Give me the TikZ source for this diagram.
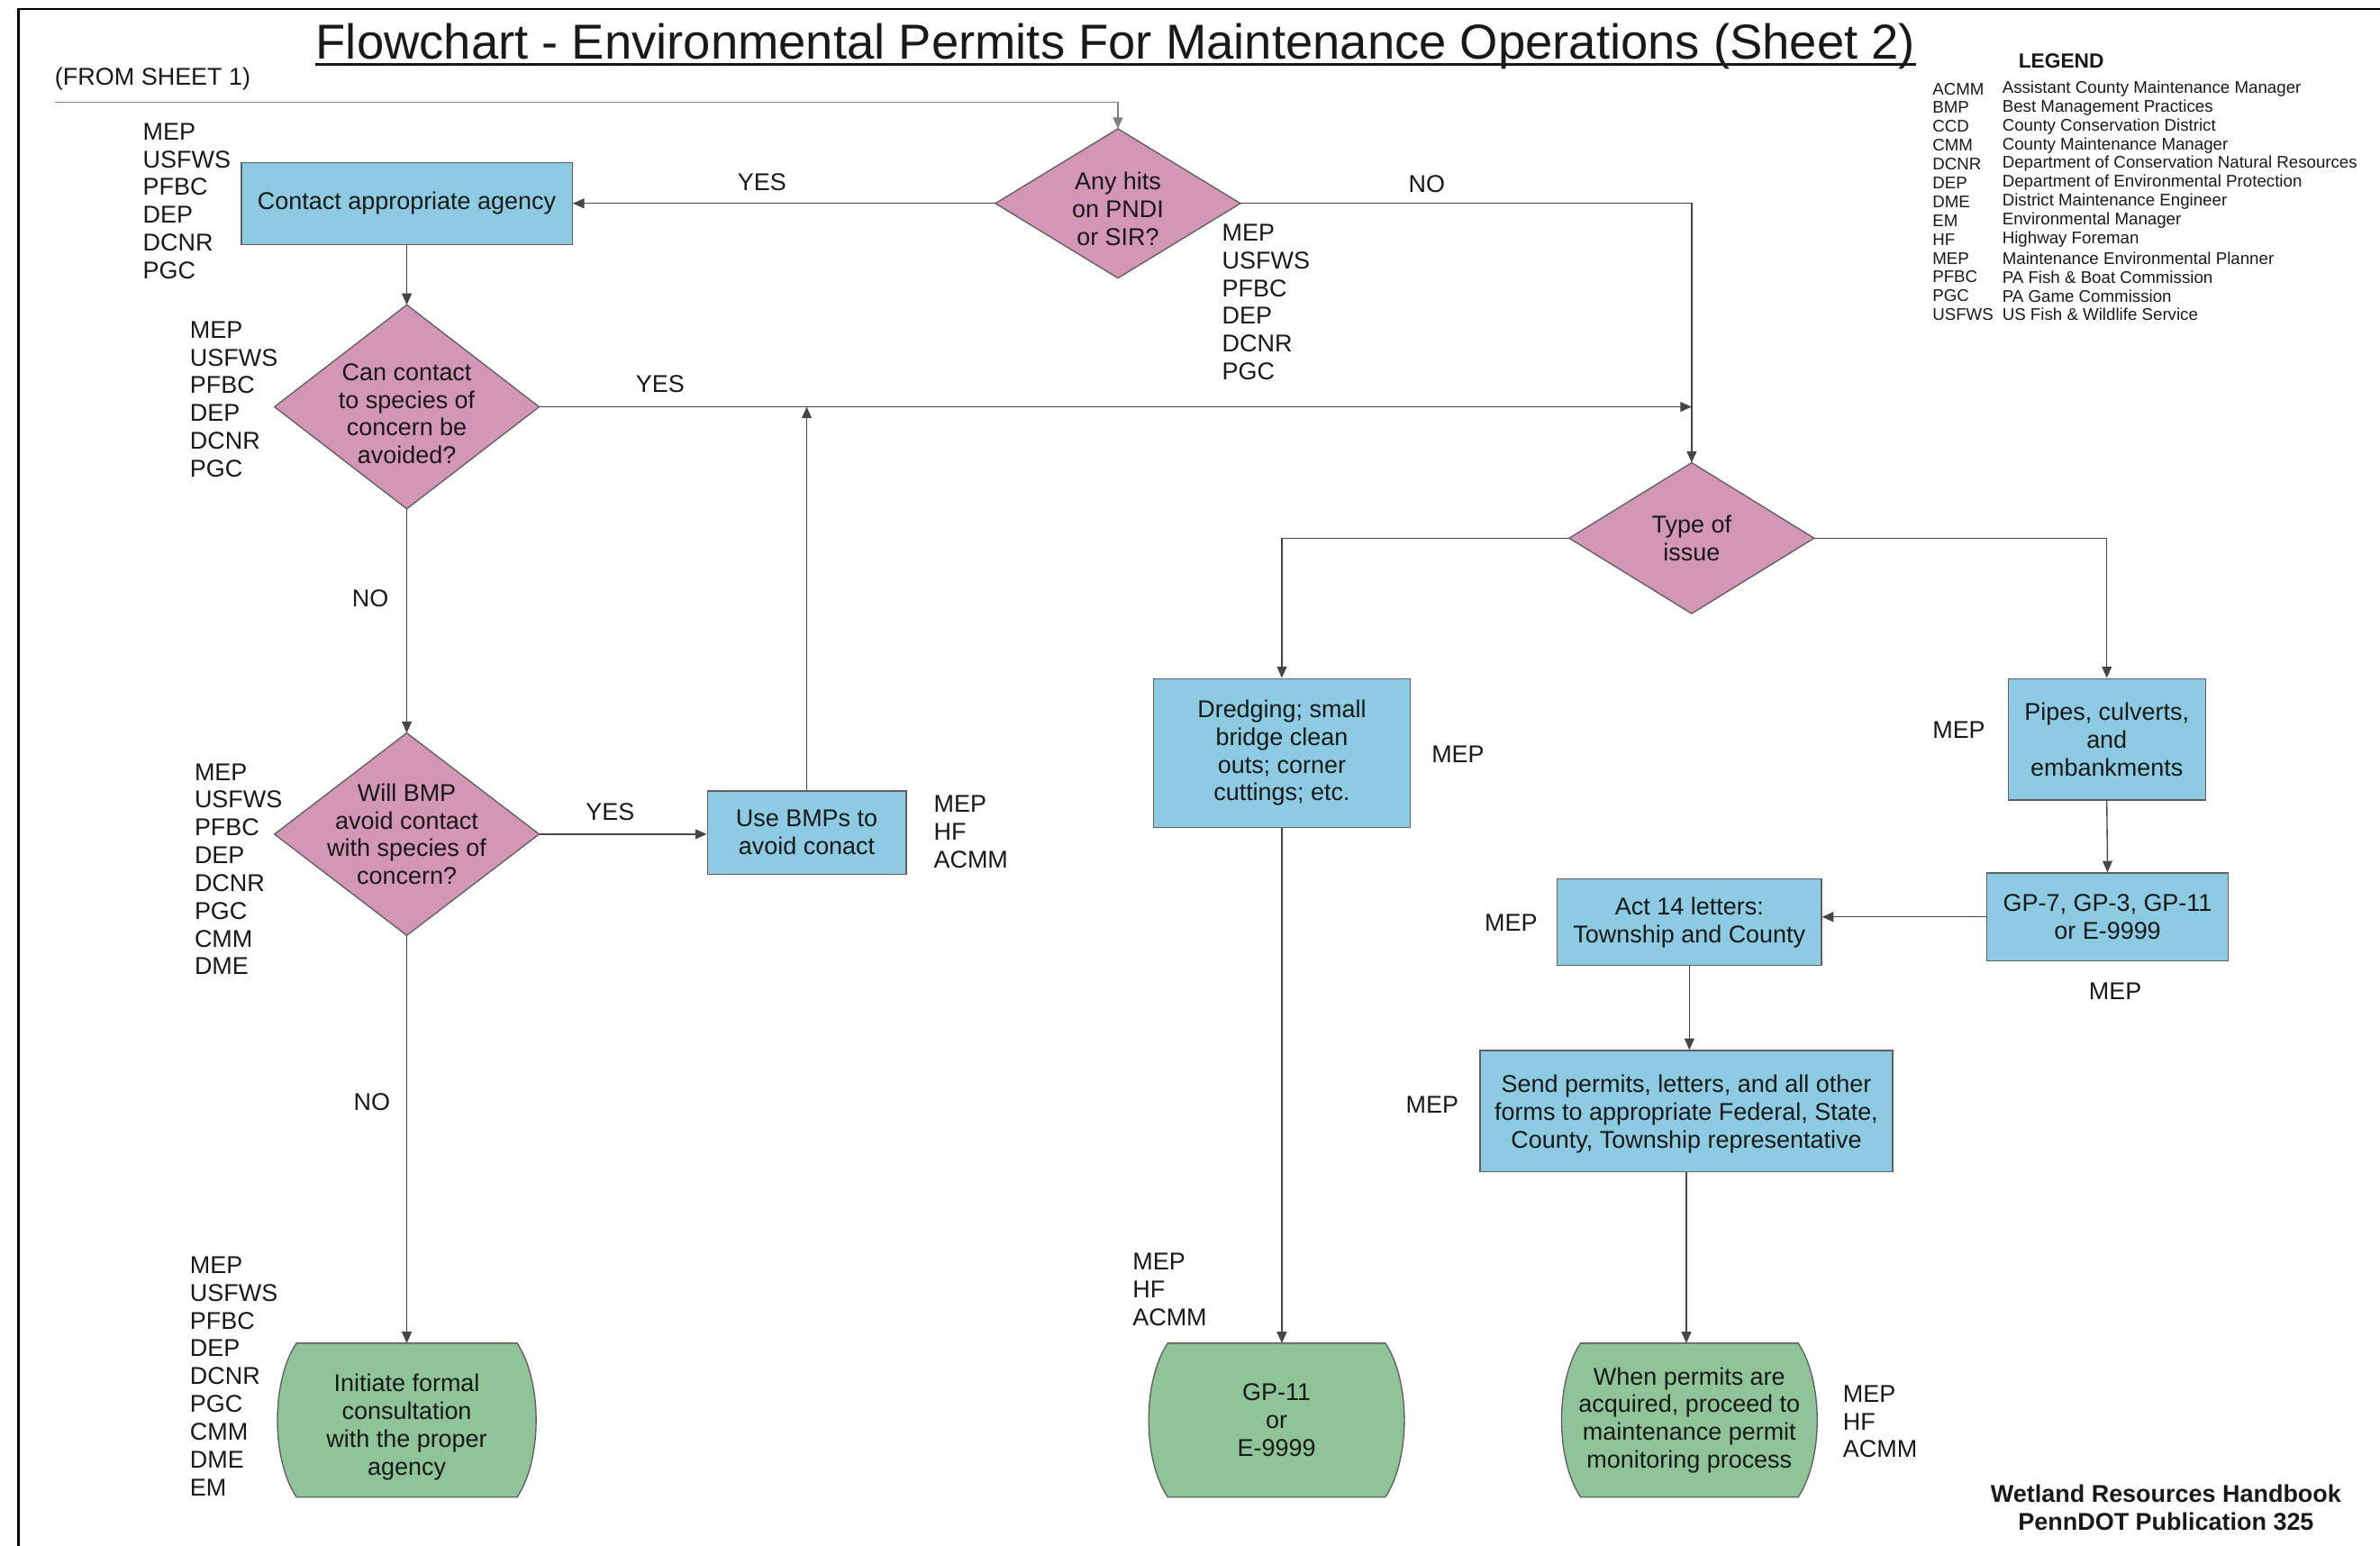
\documentclass[tikz,border=0pt]{standalone}
\usepackage{fontspec}
\setmainfont{Liberation Sans}
\usetikzlibrary{arrows.meta,calc}
\definecolor{pinkd}{RGB}{212,150,182}
\definecolor{blueb}{RGB}{141,203,226}
\definecolor{greent}{RGB}{143,196,152}
\definecolor{lineg}{RGB}{70,70,70}
\definecolor{edgeg}{RGB}{95,95,95}
\definecolor{txt}{RGB}{25,25,25}
\pgfdeclarelayer{bg}
\pgfsetlayers{bg,main}
\newcommand\fsz{\fontsize{16}{18.3}\selectfont}
\newcommand\termshape[1]{%
 \path[termfill] ($(#1.north west)+(12.5,0)$) -- ($(#1.north east)+(-12.5,0)$)
  .. controls ($(#1.north east)+(4.17,25)$) and ($(#1.south east)+(4.17,-25)$) .. ($(#1.south east)+(-12.5,0)$)
  -- ($(#1.south west)+(12.5,0)$)
  .. controls ($(#1.south west)+(-4.17,-25)$) and ($(#1.north west)+(-4.17,25)$) .. cycle;}
\newcommand\diashape[1]{%
 \path[diafill] (#1.north) -- (#1.east) -- (#1.south) -- (#1.west) -- cycle;}
\tikzset{
 boxn/.style={rectangle, draw=edgeg, fill=blueb, line width=0.8pt, align=center, font=\fsz, text=txt, inner sep=0pt},
 dian/.style={rectangle, draw=none, align=center, font=\fsz, text=txt, inner sep=0pt},
 termn/.style={rectangle, draw=none, align=center, font=\fsz, text=txt, inner sep=0pt, minimum width=170, minimum height=101},
 textn/.style={align=center, font=\fsz, text=txt, inner sep=0pt},
 diafill/.style={fill=pinkd, draw=edgeg, line width=0.8pt},
 termfill/.style={fill=greent, draw=edgeg, line width=0.8pt},
 lbl/.style={font=\fsz, align=left, anchor=west, inner sep=0pt, text=txt},
 edgelbl/.style={font=\fsz, inner sep=0pt, text=txt},
 conn/.style={draw=lineg, line width=0.8pt, -{Triangle[length=7.5,width=6.5]}},
 legab/.style={font=\fontsize{11.1}{12.4}\selectfont, anchor=west, inner sep=0pt, text=txt}
}
\begin{document}
\begin{tikzpicture}[x=1pt,y=-1pt]
\useasboundingbox (0,0) rectangle (1568,1018);
% frame
\draw[line width=1.6pt, black] (12,1040) -- (12,6) -- (1590,6);

% title
\node[inner sep=0pt, anchor=base, font=\fontsize{32.3}{36}\selectfont, text=txt] (title) at (735,39) {Flowchart - Environmental Permits For Maintenance Operations (Sheet 2)};
\draw[line width=1.8pt, txt] ($(title.base west)+(0,3.5)$) -- ($(title.base east)+(0,3.5)$);
\node[inner sep=0pt, anchor=base west, font=\fsz, text=txt] (fromsheet) at (36,56) {(FROM SHEET 1)};
\coordinate (fs) at (36,67.5);

% legend
\node[inner sep=0pt, font=\bfseries\fontsize{13.5}{15}\selectfont, text=txt] (legend) at (1358,40) {LEGEND};
\foreach \ab/\de [count=\i from 0] in {ACMM/Assistant County Maintenance Manager, BMP/Best Management Practices, CCD/County Conservation District, CMM/County Maintenance Manager, DCNR/Department of Conservation Natural Resources, DEP/Department of Environmental Protection, DME/District Maintenance Engineer, EM/Environmental Manager, HF/Highway Foreman, MEP/Maintenance Environmental Planner, PFBC/PA Fish \& Boat Commission, PGC/PA Game Commission, USFWS/US Fish \& Wildlife Service}{
  \node[legab] (la\i) at (1273,{58.5+12.4*\i}) {\ab};
  \node[legab] (ld\i) at (1319,{58.5+12.4*\i}) {\de};
}

% footer
\node[inner sep=0pt, align=center, font=\bfseries\fontsize{16}{18.3}\selectfont, text=txt] (footer) at (1427,993) {Wetland Resources Handbook\\PennDOT Publication 325};

% nodes
\node[boxn, minimum width=218, minimum height=54] (contact) at (268,134) {Contact appropriate agency};
\node[dian, minimum width=161, minimum height=98] (d1) at (736.5,134) {};
\node[textn] (d1t) at (736.5,137.5) {Any hits\\on PNDI\\or SIR?};
\node[dian, minimum width=174, minimum height=134] (d2) at (268,268) {};
\node[textn] (d2t) at (268,272.5) {Can contact\\to species of\\concern be\\avoided?};
\node[dian, minimum width=174, minimum height=133] (d3) at (268,549.5) {Will BMP\\avoid contact\\with species of\\concern?};
\node[boxn, minimum width=131, minimum height=55] (usebmp) at (531.5,548.5) {Use BMPs to\\avoid conact};
\node[termn] (init) at (268,935.5) {};
\node[textn] (initt) at (268,940) {Initiate formal\\consultation\\with the proper\\agency};
\node[dian, minimum width=161, minimum height=99] (typ) at (1114.5,354.5) {Type of\\issue};
\node[boxn, minimum width=169, minimum height=98] (dredge) at (844.5,496) {Dredging; small\\bridge clean\\outs; corner\\cuttings; etc.};
\node[termn, minimum width=168] (gp11) at (841,935.5) {GP-11\\or\\E-9999};
\node[boxn, minimum width=130, minimum height=80] (pipes) at (1388,487) {Pipes, culverts,\\and\\embankments};
\node[boxn, minimum width=159, minimum height=58] (gp7) at (1388.5,604) {GP-7, GP-3, GP-11\\or E-9999};
\node[boxn, minimum width=174, minimum height=57] (act14) at (1113,607.5) {Act 14 letters:\\Township and County};
\node[boxn, minimum width=272, minimum height=80] (send) at (1111,732) {};
\node[textn] (sendt) at (1111,734) {Send permits, letters, and all other\\forms to appropriate Federal, State,\\County, Township representative};
\node[termn, minimum width=168] (when) at (1113,935.5) {When permits are\\acquired, proceed to\\maintenance permit\\monitoring process};

\begin{pgfonlayer}{bg}
\diashape{d1}
\diashape{d2}
\diashape{d3}
\diashape{typ}
\termshape{init}
\termshape{gp11}
\termshape{when}
\end{pgfonlayer}

% agency lists
\node[lbl] (l1) at (94,132.5) {MEP\\USFWS\\PFBC\\DEP\\DCNR\\PGC};
\node[lbl] (l2) at (805,199) {MEP\\USFWS\\PFBC\\DEP\\DCNR\\PGC};
\node[lbl] (l3) at (125,263) {MEP\\USFWS\\PFBC\\DEP\\DCNR\\PGC};
\node[lbl] (l4) at (128,572.5) {MEP\\USFWS\\PFBC\\DEP\\DCNR\\PGC\\CMM\\DME};
\node[lbl] (l5) at (615,548) {MEP\\HF\\ACMM};
\node[lbl] (l6) at (125,906.5) {MEP\\USFWS\\PFBC\\DEP\\DCNR\\PGC\\CMM\\DME\\EM};
\node[lbl] (l7) at (746,849.5) {MEP\\HF\\ACMM};
\node[lbl] (l8) at (1214,936.5) {MEP\\HF\\ACMM};
\node[lbl] (m1) at (943,497) {MEP};
\node[lbl] (m2) at (1273,481) {MEP};
\node[lbl] (m3) at (1376,653) {MEP};
\node[lbl] (m4) at (978,608) {MEP};
\node[lbl] (m5) at (926,728) {MEP};

% connectors
\draw[conn, draw=gray] (fs) -| (d1.north);
\draw[conn] (d1.west) -- (contact.east);
\node[edgelbl] (yes1) at (502,120) {YES};
\draw[conn] (d1.east) -| (typ.north);
\node[edgelbl] (no1) at (940,121) {NO};
\draw[conn] (contact.south) -- (d2.north);
\coordinate (j1) at (d2.east -| typ.north);
\draw[conn] (d2.east) -- (j1);
\node[edgelbl] (yes2) at (435,253) {YES};
\draw[conn] (usebmp.north) -- (usebmp.north |- d2.east);
\draw[conn] (d2.south) -- (d3.north);
\node[edgelbl] (no2) at (244,394) {NO};
\draw[conn] (d3.east) -- (d3.east -| usebmp.west);
\node[edgelbl] (yes3) at (402,535) {YES};
\draw[conn] (d3.south) -- (init.north);
\node[edgelbl] (no3) at (245,726) {NO};
\draw[conn] (typ.west) -| (dredge.north);
\draw[conn] (typ.east) -| (pipes.north);
\draw[conn] (dredge.south) -- (dredge.south |- gp11.north);
\draw[conn] (pipes.south) -- (gp7.north);
\draw[conn] (gp7.west) -- (gp7.west -| act14.east);
\draw[conn] (act14.south) -- (act14.south |- send.north);
\draw[conn] (send.south) -- (send.south |- when.north);
\end{tikzpicture}
\end{document}
